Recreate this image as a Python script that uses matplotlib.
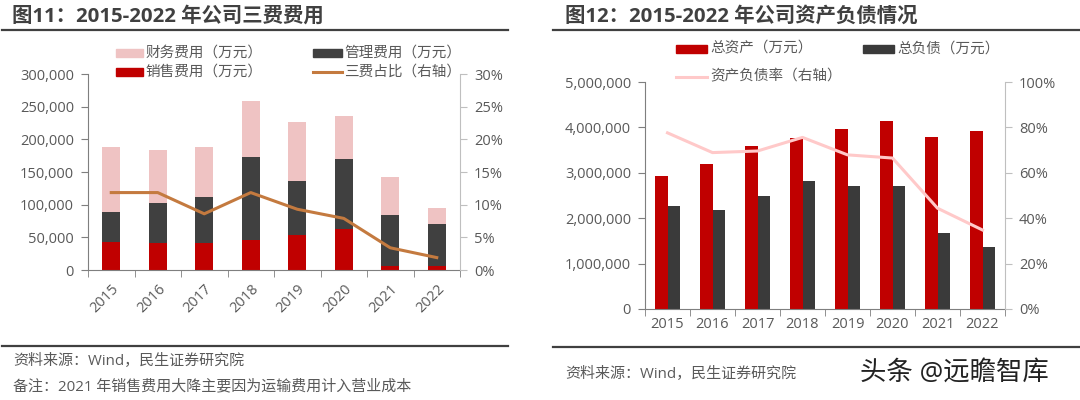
#two panels: company expenses (2015-2022) and assets / liabilities
import numpy as np
import matplotlib.pyplot as plt
from matplotlib.lines import Line2D
from matplotlib.patches import Rectangle
from matplotlib.ticker import FuncFormatter, MultipleLocator

plt.rcParams['font.family'] = ['Open Sans', 'Noto Sans CJK SC', 'DejaVu Sans']

years = ['2015', '2016', '2017', '2018', '2019', '2020', '2021', '2022']

#left panel (万元)
sales_exp = [43400, 41000, 41000, 46000, 54000, 63000, 6600, 6600]
admin_exp = [45500, 62000, 71000, 127000, 82000, 107000, 77400, 63900]
fin_exp = [100100, 80000, 77000, 86000, 91000, 65000, 59000, 24000]
exp_ratio = [11.85, 11.85, 8.6, 11.85, 9.3, 7.9, 3.4, 1.9]

#right panel (万元)
total_assets = [2940000, 3190000, 3590000, 3760000, 3970000, 4130000, 3790000, 3910000]
total_liab = [2260000, 2190000, 2490000, 2820000, 2700000, 2720000, 1670000, 1360000]
debt_ratio = [77.6, 68.9, 69.6, 75.6, 67.9, 66.5, 44.4, 34.8]

RED = '#C00000'
DARK = '#404040'
PINK = '#EFC3C3'
BROWN = '#C47A3F'
LPINK = '#FFC9C9'
GREY = '#595959'

W, H = 1080, 400
fig = plt.figure(figsize=(10.8, 4), dpi=100)

def fx(px):
    return px / W

def fy(py):
    return 1 - py / H

def hline(x0, x1, y):
    fig.add_artist(Line2D([fx(x0), fx(x1)], [fy(y), fy(y)], color='#404040', lw=1.6))

def style_axes(ax, ax2, n):
    for a in (ax, ax2):
        a.spines['top'].set_visible(False)
    ax.spines['right'].set_visible(False)
    ax2.spines['left'].set_visible(False)
    ax2.spines['bottom'].set_visible(False)
    ax.spines['left'].set_color('#7F7F7F')
    ax.spines['bottom'].set_color('#7F7F7F')
    ax2.spines['right'].set_color('#BFBFBF')
    ax.tick_params(axis='y', colors='#7F7F7F', labelcolor=GREY, labelsize=10.5, length=5, pad=5)
    ax2.tick_params(axis='y', colors='#BFBFBF', labelcolor=GREY, labelsize=10.5, length=5, pad=5)
    ax.set_xlim(-0.5, n - 0.5)
    ax.set_xticks(np.arange(n))
    ax.set_xticks(np.arange(n + 1) - 0.5, minor=True)
    ax.tick_params(axis='x', which='major', length=0, labelcolor=GREY, labelsize=10.5)
    ax.tick_params(axis='x', which='minor', length=5, color='#7F7F7F')

x = np.arange(len(years))
thousands = FuncFormatter(lambda v, p: f'{v:,.0f}')
percent = FuncFormatter(lambda v, p: f'{v:.0f}%')

#---------- left panel ----------
ax1 = fig.add_axes([fx(88), fy(270), fx(460 - 88), (270 - 74) / H])
ax1b = ax1.twinx()
bw = 0.39
ax1.bar(x, sales_exp, bw, color=RED, zorder=2)
ax1.bar(x, admin_exp, bw, bottom=sales_exp, color=DARK, zorder=2)
bottom2 = np.array(sales_exp) + np.array(admin_exp)
ax1.bar(x, fin_exp, bw, bottom=bottom2, color=PINK, zorder=2)
ax1b.plot(x, exp_ratio, color=BROWN, lw=2.2)
ax1.set_ylim(0, 300000)
ax1.yaxis.set_major_locator(MultipleLocator(50000))
ax1.yaxis.set_major_formatter(thousands)
ax1b.set_ylim(0, 30)
ax1b.yaxis.set_major_locator(MultipleLocator(5))
ax1b.yaxis.set_major_formatter(percent)
style_axes(ax1, ax1b, len(years))
ax1.set_xticklabels(years, rotation=45, ha='right', va='top', rotation_mode='anchor')
ax1.tick_params(axis='x', which='major', pad=8)

fig.text(fx(12), fy(17), '图11：2015-2022 年公司三费费用', fontsize=14.7, fontweight='bold',
         color='#404040', va='center', ha='left')
hline(2, 508, 30)
hline(2, 508, 346)
fig.text(fx(13), fy(362), '资料来源：Wind，民生证券研究院', fontsize=10.8, color=GREY, va='center')
fig.text(fx(13), fy(387), '备注：2021 年销售费用大降主要因为运输费用计入营业成本', fontsize=10.8,
         color=GREY, va='center')

#legend (left)
def patch(x0, x1, y, color):
    fig.add_artist(Rectangle((fx(x0), fy(y + 4)), fx(x1 - x0), 8 / H, color=color,
                             transform=fig.transFigure))

def legline(x0, x1, y, color, lw):
    fig.add_artist(Line2D([fx(x0), fx(x1)], [fy(y), fy(y)], color=color, lw=lw))

def legtext(x0, y, s):
    fig.text(fx(x0), fy(y), s, fontsize=10.5, color=GREY, va='center', ha='left')

patch(116, 143, 53, PINK)
legtext(145, 53, '财务费用（万元）')
patch(313, 342, 53, DARK)
legtext(344, 53, '管理费用（万元）')
patch(116, 143, 72, RED)
legtext(145, 72, '销售费用（万元）')
legline(313, 342, 72, BROWN, 2.2)
legtext(344, 72, '三费占比（右轴）')

#---------- right panel ----------
ax2 = fig.add_axes([fx(645), fy(309), fx(1005 - 645), (309 - 82) / H])
ax2b = ax2.twinx()
bw2 = 0.28
ax2.bar(x - bw2 / 2, total_assets, bw2, color=RED, zorder=2)
ax2.bar(x + bw2 / 2, total_liab, bw2, color='#3A3A3A', zorder=2)
ax2b.plot(x, debt_ratio, color=LPINK, lw=2.2)
ax2.set_ylim(0, 5000000)
ax2.yaxis.set_major_locator(MultipleLocator(1000000))
ax2.yaxis.set_major_formatter(thousands)
ax2b.set_ylim(0, 100)
ax2b.yaxis.set_major_locator(MultipleLocator(20))
ax2b.yaxis.set_major_formatter(percent)
style_axes(ax2, ax2b, len(years))
ax2.set_xticklabels(years)
ax2.tick_params(axis='x', which='major', pad=6)

fig.text(fx(565), fy(17), '图12：2015-2022 年公司资产负债情况', fontsize=14.7, fontweight='bold',
         color='#404040', va='center', ha='left')
hline(553, 1080, 30)
hline(553, 1080, 347)
fig.text(fx(565), fy(375), '资料来源：Wind，民生证券研究院', fontsize=10.8, color=GREY, va='center')
fig.text(fx(860), fy(373), '头条 @远瞻智库', fontsize=19, color='#222222', va='center')

patch(676, 707, 49, RED)
legtext(710, 49, '总资产（万元）')
patch(863, 894, 49, '#3A3A3A')
legtext(897, 49, '总负债（万元）')
legline(676, 707, 77, LPINK, 2.2)
legtext(710, 77, '资产负债率（右轴）')

fig.savefig('out.png', dpi=100)
